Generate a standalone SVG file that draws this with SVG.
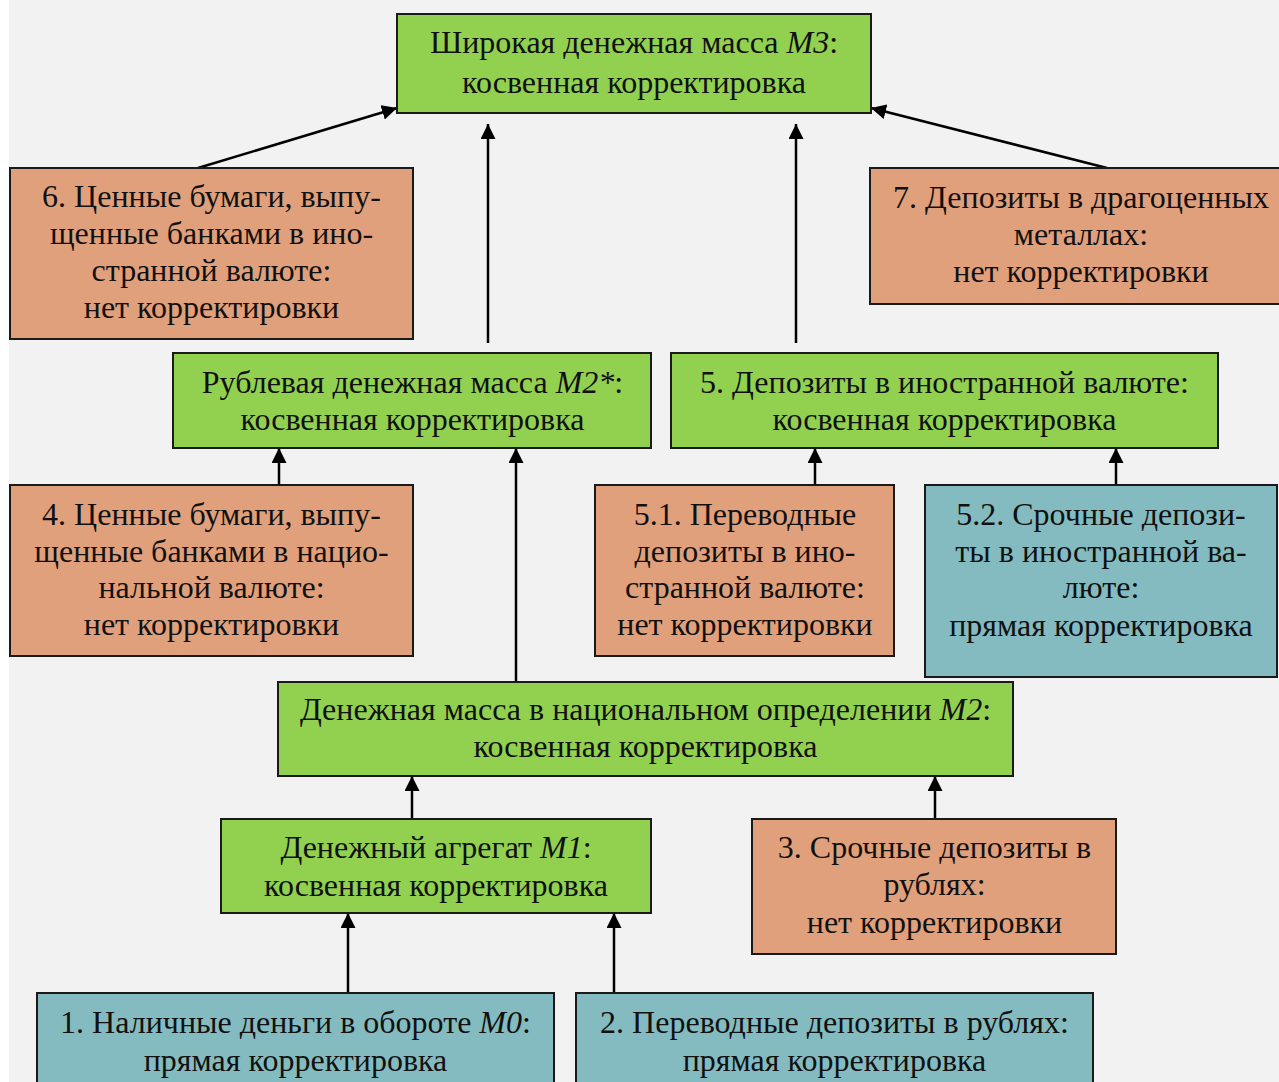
<svg xmlns="http://www.w3.org/2000/svg" width="1279" height="1082" viewBox="0 0 1279 1082">
<defs>
<style>
.g{fill:#92d050;stroke:#1a1a1a;stroke-width:2}
.s{fill:#e1a07c;stroke:#1a1a1a;stroke-width:2}
.t{fill:#84bbc0;stroke:#1a1a1a;stroke-width:2}
text{font-family:"Liberation Serif","Times New Roman",serif;font-size:32px;fill:#111;text-anchor:middle}
.i{font-style:italic}
.c line{stroke:#000;stroke-width:2.5;marker-end:url(#ah)}
</style>
<marker id="ah" viewBox="0 0 15 15" refX="15" refY="7.5" markerWidth="15" markerHeight="15" markerUnits="userSpaceOnUse" orient="auto">
<path d="M0,0 L15,7.5 L0,15 Z" fill="#000"/>
</marker>
</defs>
<rect x="0" y="0" width="1279" height="1082" fill="#ffffff"/>
<rect x="9" y="0" width="1270" height="1082" fill="#f2f2f2"/>

<g class="c" id="connectors">
<line x1="198" y1="168" x2="397" y2="108"/>
<line x1="1107" y1="168" x2="871" y2="108"/>
<line x1="488" y1="343" x2="488" y2="124"/>
<line x1="796" y1="343" x2="796" y2="124"/>
<line x1="279" y1="485" x2="279" y2="448"/>
<line x1="516" y1="682" x2="516" y2="448"/>
<line x1="815" y1="485" x2="815" y2="448"/>
<line x1="1116" y1="485" x2="1116" y2="448"/>
<line x1="412" y1="819" x2="412" y2="776"/>
<line x1="935" y1="819" x2="935" y2="776"/>
<line x1="348" y1="993" x2="348" y2="913"/>
<line x1="614" y1="993" x2="614" y2="913"/>
</g>

<g id="m3">
<rect class="g" x="397" y="14" width="474" height="99"/>
<text x="634" y="53">Широкая денежная масса <tspan class="i">M3</tspan>:</text>
<text x="634" y="93">косвенная корректировка</text>
</g>

<g id="n6">
<rect class="s" x="10" y="168" width="403" height="171"/>
<text x="211.5" y="207">6. Ценные бумаги, выпу-</text>
<text x="211.5" y="244">щенные банками в ино-</text>
<text x="211.5" y="281">странной валюте:</text>
<text x="211.5" y="318">нет корректировки</text>
</g>

<g id="n7">
<rect class="s" x="870" y="168" width="420" height="136"/>
<text x="1081" y="208">7. Депозиты в драгоценных</text>
<text x="1081" y="245">металлах:</text>
<text x="1081" y="282">нет корректировки</text>
</g>

<g id="m2star">
<rect class="g" x="173" y="353" width="478" height="95"/>
<text x="412.5" y="393">Рублевая денежная масса <tspan class="i">M2*</tspan>:</text>
<text x="412.5" y="430">косвенная корректировка</text>
</g>

<g id="n5">
<rect class="g" x="671" y="353" width="547" height="95"/>
<text x="944.5" y="393">5. Депозиты в иностранной валюте:</text>
<text x="944.5" y="430">косвенная корректировка</text>
</g>

<g id="n4">
<rect class="s" x="10" y="485" width="403" height="171"/>
<text x="211.5" y="525">4. Ценные бумаги, выпу-</text>
<text x="211.5" y="562">щенные банками в нацио-</text>
<text x="211.5" y="598">нальной валюте:</text>
<text x="211.5" y="635">нет корректировки</text>
</g>

<g id="n51">
<rect class="s" x="595" y="485" width="299" height="171"/>
<text x="745" y="525">5.1. Переводные</text>
<text x="745" y="562">депозиты в ино-</text>
<text x="745" y="598">странной валюте:</text>
<text x="745" y="635">нет корректировки</text>
</g>

<g id="n52">
<rect class="t" x="925" y="485" width="352" height="192"/>
<text x="1101" y="525">5.2. Срочные депози-</text>
<text x="1101" y="562">ты в иностранной ва-</text>
<text x="1101" y="598">люте:</text>
<text x="1101" y="636">прямая корректировка</text>
</g>

<g id="m2">
<rect class="g" x="278" y="682" width="735" height="94"/>
<text x="645.5" y="720">Денежная масса в национальном определении <tspan class="i">M2</tspan>:</text>
<text x="645.5" y="757">косвенная корректировка</text>
</g>

<g id="m1">
<rect class="g" x="221" y="819" width="430" height="94"/>
<text x="436" y="858">Денежный агрегат <tspan class="i">M1</tspan>:</text>
<text x="436" y="896">косвенная корректировка</text>
</g>

<g id="n3">
<rect class="s" x="752" y="819" width="364" height="135"/>
<text x="934.5" y="858">3. Срочные депозиты в</text>
<text x="934.5" y="895">рублях:</text>
<text x="934.5" y="933">нет корректировки</text>
</g>

<g id="n1">
<rect class="t" x="37" y="993" width="517" height="110"/>
<text x="295.5" y="1033">1. Наличные деньги в обороте <tspan class="i">M0</tspan>:</text>
<text x="295.5" y="1071">прямая корректировка</text>
</g>

<g id="n2">
<rect class="t" x="576" y="993" width="517" height="110"/>
<text x="834.5" y="1033">2. Переводные депозиты в рублях:</text>
<text x="834.5" y="1071">прямая корректировка</text>
</g>
</svg>
